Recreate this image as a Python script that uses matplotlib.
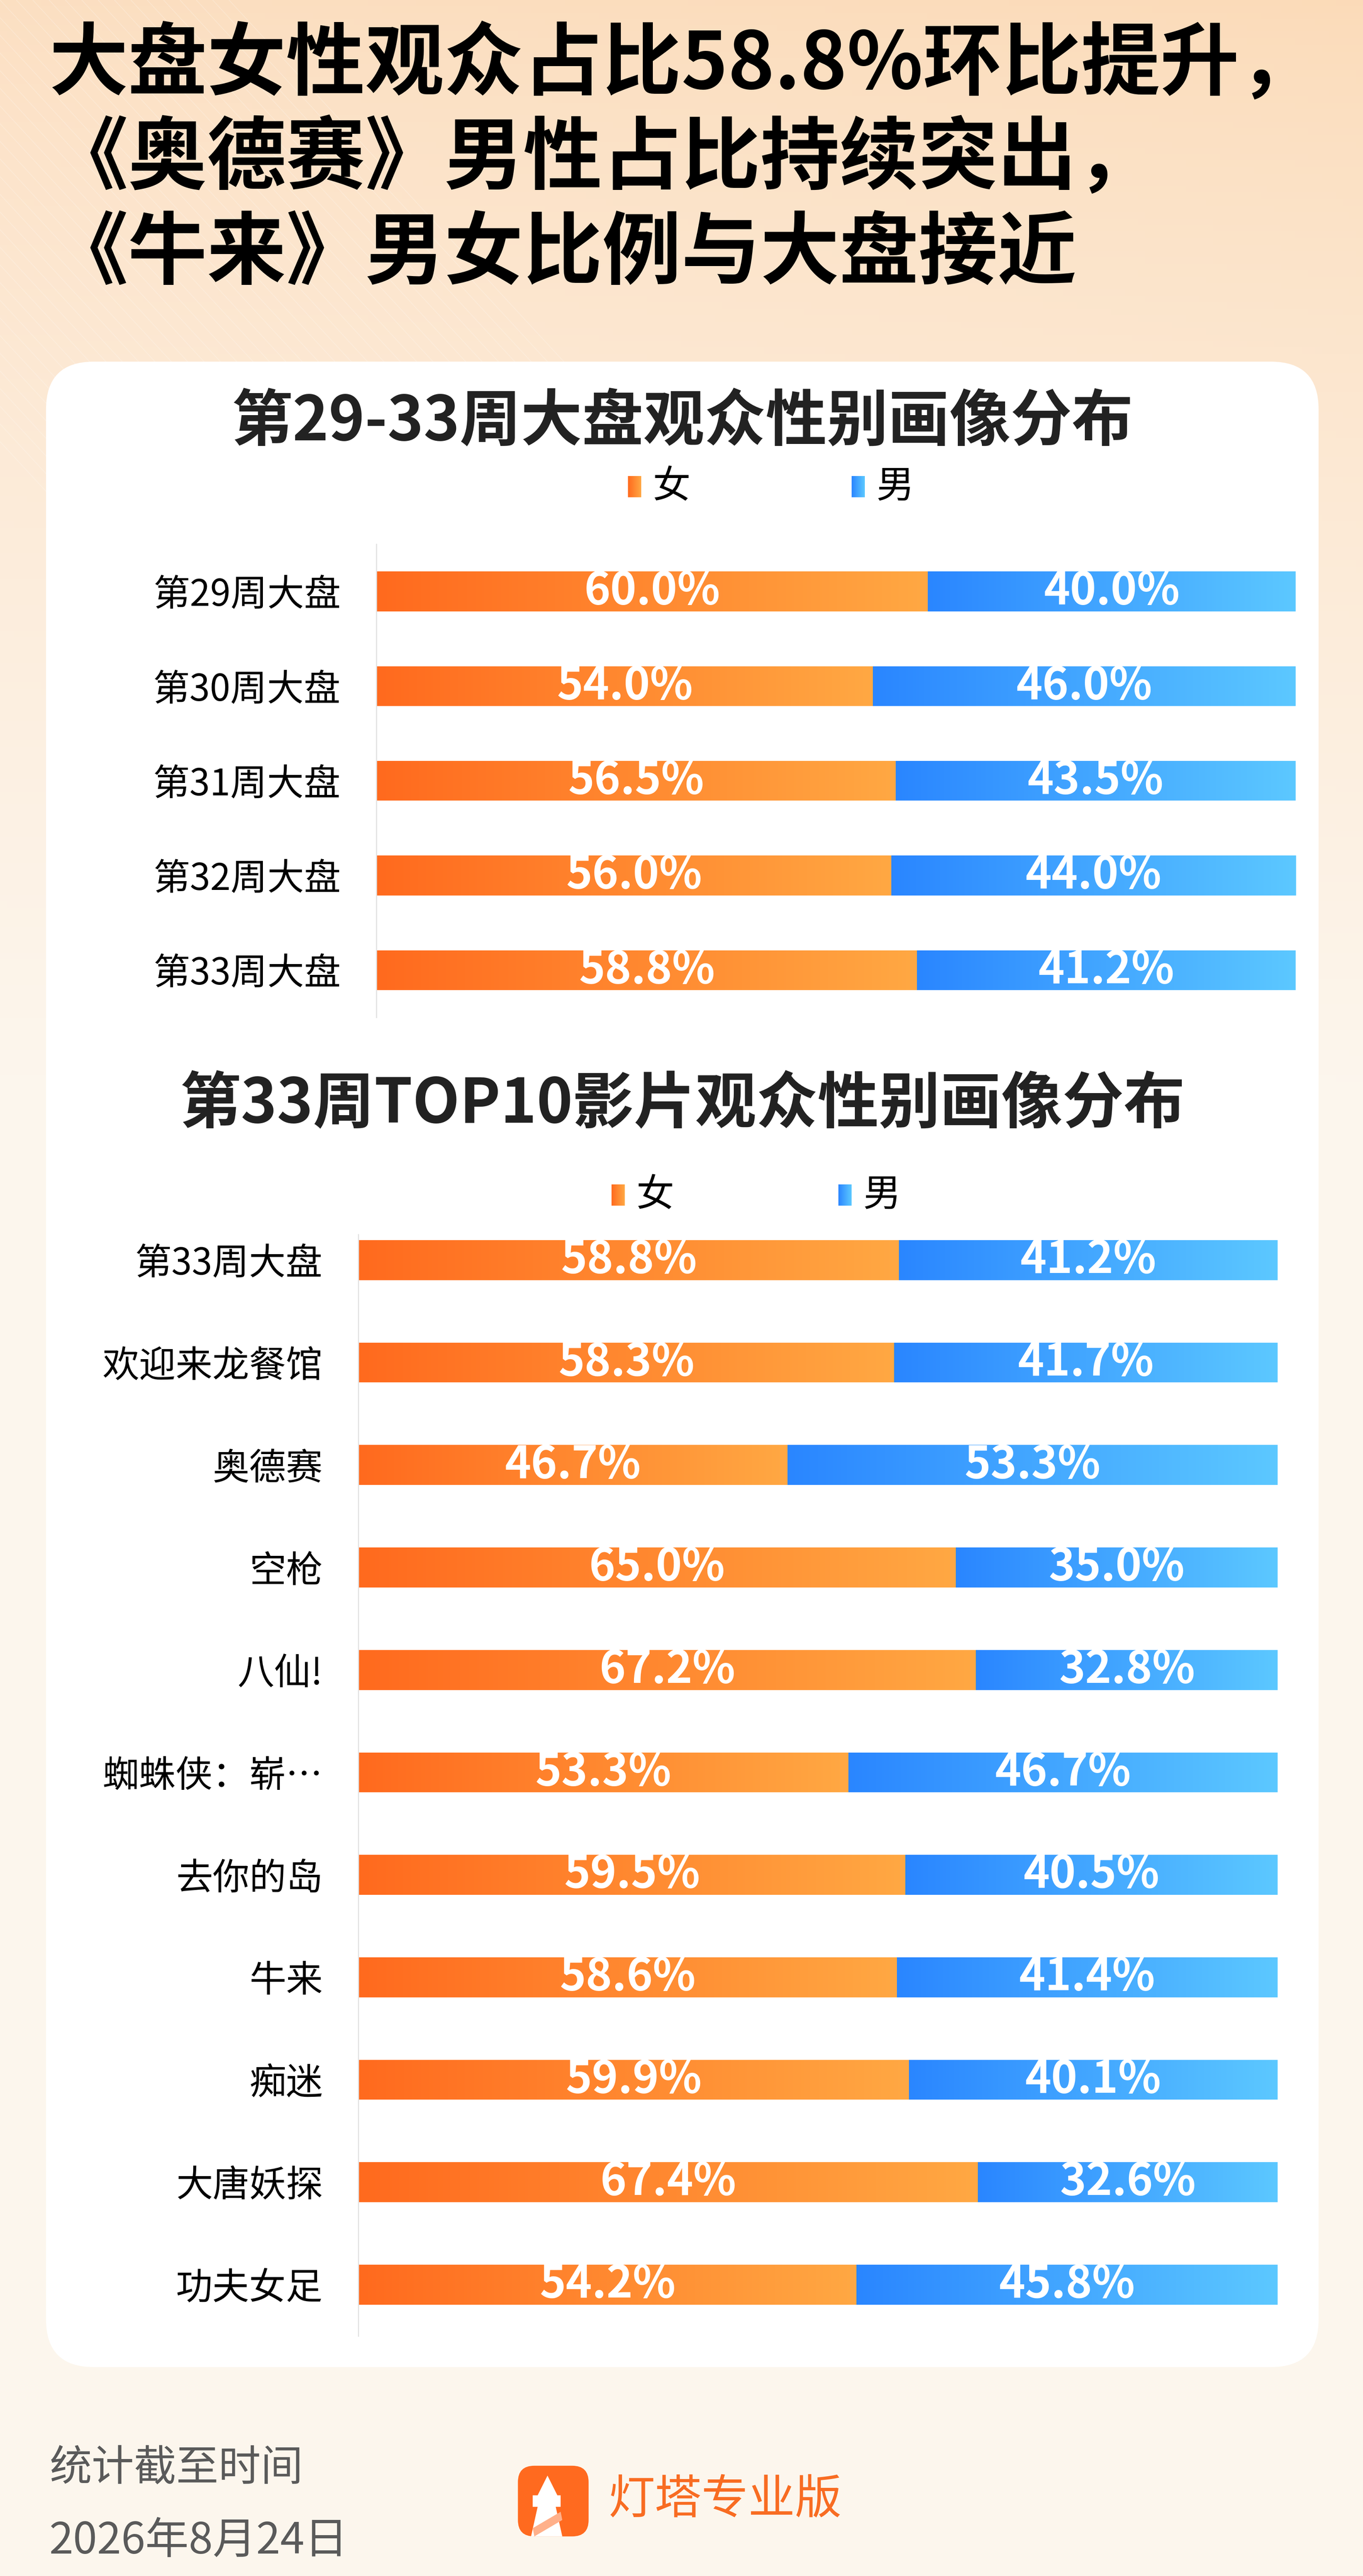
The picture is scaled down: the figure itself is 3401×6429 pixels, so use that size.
import numpy as np
import matplotlib
matplotlib.use("Agg")
import matplotlib.pyplot as plt
from matplotlib.patches import FancyBboxPatch, Polygon
from matplotlib.colors import LinearSegmentedColormap

plt.rcParams['font.family'] = ['Noto Sans CJK SC', 'DejaVu Sans']

# data
title_lines = ["大盘女性观众占比58.8%环比提升，",
               "《奥德赛》男性占比持续突出，",
               "《牛来》男女比例与大盘接近"]

weeks = ["第29周大盘", "第30周大盘", "第31周大盘", "第32周大盘", "第33周大盘"]
weeks_female = [60.0, 54.0, 56.5, 56.0, 58.8]
weeks_male = [40.0, 46.0, 43.5, 44.0, 41.2]

films = ["第33周大盘", "欢迎来龙餐馆", "奥德赛", "空枪", "八仙!", "蜘蛛侠：崭…",
         "去你的岛", "牛来", "痴迷", "大唐妖探", "功夫女足"]
films_female = [58.8, 58.3, 46.7, 65.0, 67.2, 53.3, 59.5, 58.6, 59.9, 67.4, 54.2]
films_male = [41.2, 41.7, 53.3, 35.0, 32.8, 46.7, 40.5, 41.4, 40.1, 32.6, 45.8]

W, H = 3401, 6429
S = W / 829.0  # layout measured on a 829 px wide preview

fig = plt.figure(figsize=(W / 100, H / 100), dpi=100)


def fx(x):
    return x * S / W


def fy(y):
    return 1 - y * S / H


def box(x0, y0, x1, y1):
    return [fx(x0), fy(y1), fx(x1) - fx(x0), fy(y0) - fy(y1)]


orange = LinearSegmentedColormap.from_list("or", ["#ff6a1e", "#ffa843"])
blue = LinearSegmentedColormap.from_list("bl", ["#2a86ff", "#5cc8ff"])
grad = np.linspace(0, 1, 256).reshape(1, -1)

# background
bg = fig.add_axes([0, 0, 1, 1], zorder=-3)
bg.set_axis_off()
yy, xx = np.mgrid[0:1:400j, 0:1:200j]
s = np.clip(yy / 0.42, 0, 1) ** 0.8
top = np.array([0.988, 0.875, 0.760]) * (1 - xx[..., None] * 0.3) + np.array([0.980, 0.820, 0.640]) * (xx[..., None] * 0.3)
bottom = np.array([0.992, 0.965, 0.930])
img = top * (1 - s[..., None]) + bottom * s[..., None]
bg.imshow(img, extent=[0, 1, 0, 1], aspect='auto', origin='upper')
for k in range(40):
    x0 = -0.3 + k * 0.012
    bg.plot([x0, x0 + 0.35], [1.0, 0.80], color='white', lw=1.2, alpha=0.25)
bg.set_xlim(0, 1)
bg.set_ylim(0, 1)

# white card, on its own layer under the charts
card_ax = fig.add_axes([0, 0, 1, 1], zorder=-2)
card_ax.set_axis_off()
card_ax.set_xlim(0, 1)
card_ax.set_ylim(0, 1)
card_ax.add_patch(FancyBboxPatch((fx(28), fy(1440)), fx(802) - fx(28), fy(220) - fy(1440),
                                 boxstyle="round,pad=0,rounding_size=0.035",
                                 mutation_aspect=W / H, facecolor='white', edgecolor='none'))

# title
for i, line in enumerate(title_lines):
    fig.text(fx(30), fy([40, 97, 155][i]), line, fontsize=142, fontweight='bold',
             color='black', ha='left', va='center')


def legend(y, xf, xm):
    for x, cm, lab in [(xf, orange, "女"), (xm, blue, "男")]:
        lax = fig.add_axes(box(x, y - 6.5, x + 8, y + 6.5))
        lax.imshow(grad, cmap=cm, aspect='auto')
        lax.set_axis_off()
        fig.text(fx(x + 15), fy(y), lab, fontsize=68, ha='left', va='center')


def stacked(rect, labels, fem, mal, height, ylim):
    ax = fig.add_axes(rect)
    ax.patch.set_alpha(0)
    y = np.arange(len(labels))
    bf = ax.barh(y, fem, height=height, color='#ff8a30')
    bm = ax.barh(y, mal, left=fem, height=height, color='#43a8ff')
    for bars, cm in [(bf, orange), (bm, blue)]:
        for p in bars:
            x0, y0 = p.get_x(), p.get_y()
            im = ax.imshow(grad, cmap=cm, aspect='auto', zorder=2,
                           extent=[x0, x0 + p.get_width(), y0 + p.get_height(), y0])
            im.set_clip_path(p)
    for i in range(len(labels)):
        ax.text(fem[i] / 2, i, f"{fem[i]:.1f}%", color='white', fontsize=80,
                fontweight='bold', ha='center', va='center', zorder=3)
        ax.text(fem[i] + mal[i] / 2, i, f"{mal[i]:.1f}%", color='white', fontsize=80,
                fontweight='bold', ha='center', va='center', zorder=3)
    ax.set_xlim(0, 100)
    ax.set_ylim(*ylim)
    ax.set_yticks(y)
    ax.set_yticklabels(labels, fontsize=66)
    ax.tick_params(axis='y', length=0, pad=64)
    ax.set_xticks([])
    for sp in ['top', 'right', 'bottom']:
        ax.spines[sp].set_visible(False)
    ax.spines['left'].set_color('#e2e2e2')
    ax.spines['left'].set_linewidth(2)
    return ax


# chart 1
fig.text(fx(415), fy(257), "第29-33周大盘观众性别画像分布", fontsize=110,
         fontweight='bold', color='#222222', ha='center', va='center')
legend(296, 382, 518)
stacked(box(229, 331, 788, 619), weeks, weeks_female, weeks_male, 0.42, (4.5, -0.5))

# chart 2
fig.text(fx(415), fy(672), "第33周TOP10影片观众性别画像分布", fontsize=110,
         fontweight='bold', color='#222222', ha='center', va='center')
legend(727, 372, 510)
stacked(box(218, 751, 777, 1421), films, films_female, films_male, 0.39, (10.5, -0.25))

# footer
fig.text(fx(30), fy(1502), "统计截至时间", fontsize=76, color='#5a5a5a', ha='left', va='center')
fig.text(fx(30), fy(1546), "2026年8月24日", fontsize=78, color='#5a5a5a', ha='left', va='center')

logo = FancyBboxPatch((fx(315), fy(1543)), fx(358) - fx(315), fy(1500) - fy(1543),
                      boxstyle="round,pad=0,rounding_size=0.012",
                      mutation_aspect=W / H, transform=fig.transFigure,
                      facecolor='#ff6a1f', edgecolor='none')
fig.add_artist(logo)
house = [(327, 1518), (333, 1506), (339, 1518), (341, 1518), (341, 1525),
         (338, 1525), (342, 1543), (323, 1543), (327, 1525), (324, 1525), (324, 1518)]
fig.add_artist(Polygon([(fx(a), fy(b)) for a, b in house], closed=True,
                       transform=fig.transFigure, facecolor='white', edgecolor='none'))
fig.add_artist(Polygon([(fx(a), fy(b)) for a, b in [(324, 1538), (341, 1528), (342, 1533), (325, 1543)]],
                       closed=True, transform=fig.transFigure, facecolor='#ffb08a', edgecolor='none'))
fig.text(fx(370), fy(1521), "灯塔专业版", fontsize=84, color='#f86c22', ha='left', va='center')

fig.savefig("out.png", dpi=100)
